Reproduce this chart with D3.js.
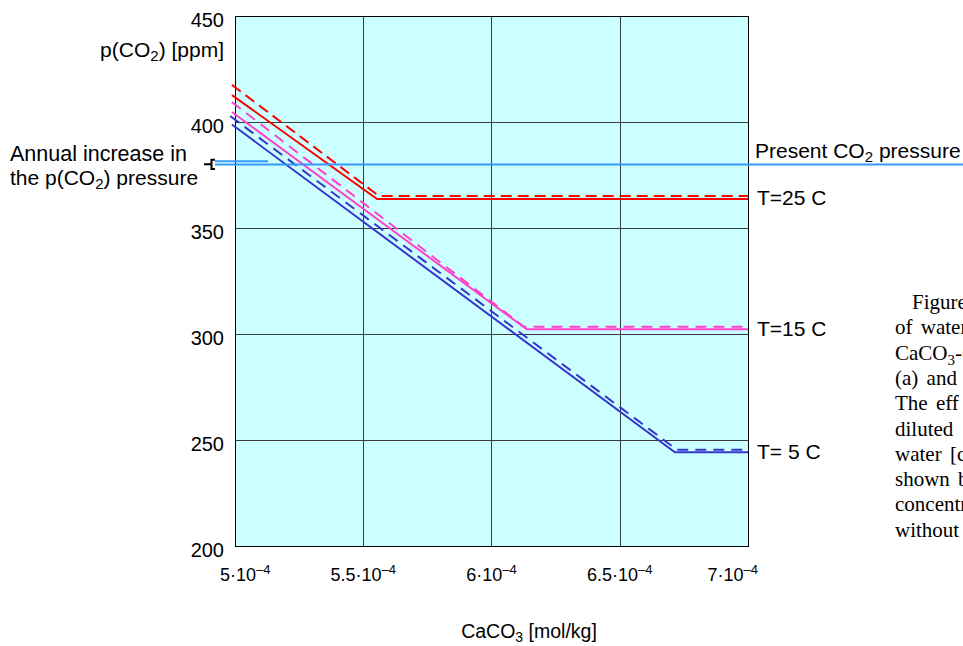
<!DOCTYPE html>
<html>
<head>
<meta charset="utf-8">
<script src="https://cdn.jsdelivr.net/npm/d3@7/dist/d3.min.js"></script>
<style>
  html, body { margin: 0; padding: 0; background: #fff; overflow: hidden; }
  svg { display: block; }
  .sans { font-family: "Liberation Sans", Arial, sans-serif; fill: #000; }
  .serif { font-family: "Liberation Serif", "Times New Roman", serif; fill: #000; }
</style>
</head>
<body>
<svg id="chart" width="963" height="646"></svg>
<script>
// CaCO3 concentration (mol/kg) vs. equilibrium p(CO2) in ppm
const yTicks = [200, 250, 300, 350, 400, 450];
const xTicks = [5e-4, 5.5e-4, 6e-4, 6.5e-4, 7e-4];
const xTickMantissas = ["5", "5.5", "6", "6.5", "7"];
const xTickExponent = "–4";

// [CaCO3, p(CO2)] break points for each temperature
const t25Solid  = [[4.988e-4, 412.7], [5.554e-4, 363.7], [7.0e-4, 363.7]];
const t25Dashed = [[4.988e-4, 417.5], [5.561e-4, 365.1], [7.0e-4, 365.1]];
const t15Solid  = [[4.988e-4, 404.7], [6.138e-4, 302.2], [7.0e-4, 302.2]];
const t15Dashed = [[4.988e-4, 409.4], [6.127e-4, 303.4], [7.0e-4, 303.4]];
const t5Solid   = [[4.988e-4, 398.8], [6.715e-4, 244.2], [7.0e-4, 244.2]];
const t5Dashed  = [[4.981e-4, 402.8], [6.723e-4, 245.4], [7.0e-4, 245.4]];

const tempLabels = ["T=25 C", "T=15 C", "T= 5 C"];

// present atmospheric CO2 level and its annual increase
const presentCO2 = 380;
const annualIncrease = 1.5;
const presentLineX = [4.922e-4, 7.838e-4];
const increaseLineX = [4.922e-4, 5.129e-4];

const captionLines = ["of water", "CaCO", "(a) and (", "The  eff", "diluted", "water [c", "shown b", "concentr", "without"];

const svg = d3.select("#chart");
const plot = { left: 235, right: 748, top: 16, bottom: 546 };

const x = d3.scaleLinear().domain([5e-4, 7e-4]).range([plot.left, plot.right]);
const y = d3.scaleLinear().domain([200, 450]).range([plot.bottom, plot.top]);

// plot background
svg.append("rect")
  .attr("x", plot.left).attr("y", plot.top)
  .attr("width", plot.right - plot.left).attr("height", plot.bottom - plot.top)
  .attr("fill", "#ccffff");

// grid
const grid = svg.append("g").attr("stroke", "#3a3a3a").attr("stroke-width", 1).attr("shape-rendering", "crispEdges");
grid.selectAll("line.h").data(yTicks.slice(1, -1)).join("line")
  .attr("x1", plot.left).attr("x2", plot.right)
  .attr("y1", d => Math.round(y(d)) + 0.5).attr("y2", d => Math.round(y(d)) + 0.5);
grid.selectAll("line.v").data(xTicks.slice(1, -1)).join("line")
  .attr("y1", plot.top).attr("y2", plot.bottom)
  .attr("x1", d => Math.round(x(d)) + 0.5).attr("x2", d => Math.round(x(d)) + 0.5);

// frame
svg.append("rect")
  .attr("x", plot.left + 0.5).attr("y", plot.top + 0.5)
  .attr("width", plot.right - plot.left).attr("height", plot.bottom - plot.top)
  .attr("fill", "none").attr("stroke", "#000").attr("stroke-width", 1)
  .attr("shape-rendering", "crispEdges");

// y tick labels
svg.append("g").selectAll("text").data(yTicks).join("text")
  .attr("class", "sans")
  .attr("x", 224).attr("y", d => y(d) + 11)
  .attr("text-anchor", "end").attr("font-size", 20)
  .text(d => d);

// y axis title
const yTitle = svg.append("text").attr("class", "sans")
  .attr("x", 224).attr("y", 57).attr("text-anchor", "end").attr("font-size", 21);
yTitle.append("tspan").text("p(CO");
yTitle.append("tspan").attr("font-size", 15).attr("dy", 4).text("2");
yTitle.append("tspan").attr("dy", -4).text(") [ppm]");

// x tick labels; the outermost ones are kept inside the frame width
const last = xTicks.length - 1;
const xLab = svg.append("g").selectAll("text").data(xTicks).join("text")
  .attr("class", "sans")
  .attr("x", (d, i) => i === 0 ? x(d) - 15 : i === last ? x(d) + 10 : x(d))
  .attr("y", 581)
  .attr("text-anchor", (d, i) => i === 0 ? "start" : i === last ? "end" : "middle")
  .attr("font-size", 18);
xLab.append("tspan").text((d, i) => xTickMantissas[i] + "·10");
xLab.append("tspan").attr("font-size", 13).attr("dy", -7).text(xTickExponent);

// x axis title
const xTitle = svg.append("text").attr("class", "sans")
  .attr("x", 529).attr("y", 638).attr("text-anchor", "middle").attr("font-size", 19.5);
xTitle.append("tspan").text("CaCO");
xTitle.append("tspan").attr("font-size", 14).attr("dy", 4).text("3");
xTitle.append("tspan").attr("dy", -4).text(" [mol/kg]");

// temperature curves
const line = d3.line().x(d => x(d[0])).y(d => y(d[1]));
const series = [
  { data: t25Dashed, color: "#ff0000", dash: "11,6" },
  { data: t25Solid,  color: "#ff0000", dash: null },
  { data: t15Dashed, color: "#ff40c8", dash: "11,7" },
  { data: t15Solid,  color: "#ff40c8", dash: null },
  { data: t5Dashed,  color: "#3636cc", dash: "11,7" },
  { data: t5Solid,   color: "#3636cc", dash: null }
];
svg.append("g").selectAll("path").data(series).join("path")
  .attr("d", d => line(d.data))
  .attr("fill", "none")
  .attr("stroke", d => d.color)
  .attr("stroke-width", 2)
  .attr("stroke-dasharray", d => d.dash);

// temperature labels, centred between each solid/dashed pair
const pairs = [[t25Solid, t25Dashed], [t15Solid, t15Dashed], [t5Solid, t5Dashed]];
svg.append("g").selectAll("text").data(pairs).join("text")
  .attr("class", "sans")
  .attr("x", 757)
  .attr("y", d => y((d[0][2][1] + d[1][2][1]) / 2) + 7.5)
  .attr("font-size", 21)
  .text((d, i) => tempLabels[i]);

// present CO2 pressure line and annual increase
svg.append("line")
  .attr("x1", x(presentLineX[0])).attr("x2", x(presentLineX[1]))
  .attr("y1", y(presentCO2)).attr("y2", y(presentCO2))
  .attr("stroke", "#3399ff").attr("stroke-width", 2);
svg.append("line")
  .attr("x1", x(increaseLineX[0])).attr("x2", x(increaseLineX[1]))
  .attr("y1", y(presentCO2 + annualIncrease)).attr("y2", y(presentCO2 + annualIncrease))
  .attr("stroke", "#3399ff").attr("stroke-width", 2);

// bracket joining the two levels
const bx = x(increaseLineX[0]);
const bTop = y(presentCO2 + annualIncrease) - 1.5;
const bBot = y(presentCO2) + 4.5;
const bMid = (bTop + bBot) / 2;
svg.append("path")
  .attr("d", `M${bx},${bTop} H${bx - 3.5} V${bBot} H${bx} M${bx - 3.5},${bMid} H${bx - 11}`)
  .attr("fill", "none").attr("stroke", "#000").attr("stroke-width", 2);

svg.append("text").attr("class", "sans")
  .attr("x", 755).attr("y", 157.5).attr("font-size", 21)
  .call(t => {
    t.append("tspan").text("Present CO");
    t.append("tspan").attr("font-size", 15).attr("dy", 4).text("2");
    t.append("tspan").attr("dy", -4).text(" pressure");
  });

svg.append("text").attr("class", "sans")
  .attr("x", 10).attr("y", 161).attr("font-size", 21.5)
  .text("Annual increase in");
svg.append("text").attr("class", "sans")
  .attr("x", 10).attr("y", 185).attr("font-size", 21)
  .call(t => {
    t.append("tspan").text("the p(CO");
    t.append("tspan").attr("font-size", 15).attr("dy", 4).text("2");
    t.append("tspan").attr("dy", -4).text(") pressure");
  });

// caption text at the right margin
const cap = svg.append("g").attr("class", "serif").attr("font-size", 21);
cap.append("text").attr("x", 912).attr("y", 309).text("Figure");
captionLines.forEach((s, i) => {
  const t = cap.append("text").attr("x", 895).attr("y", 309 + (i + 1) * 25.3);
  if (s === "CaCO") {
    t.append("tspan").text("CaCO");
    t.append("tspan").attr("font-size", 15).attr("dy", 5).text("3");
    t.append("tspan").attr("dy", -5).text("-(");
  } else {
    t.attr("word-spacing", 3).text(s);
  }
});
</script>
</body>
</html>
